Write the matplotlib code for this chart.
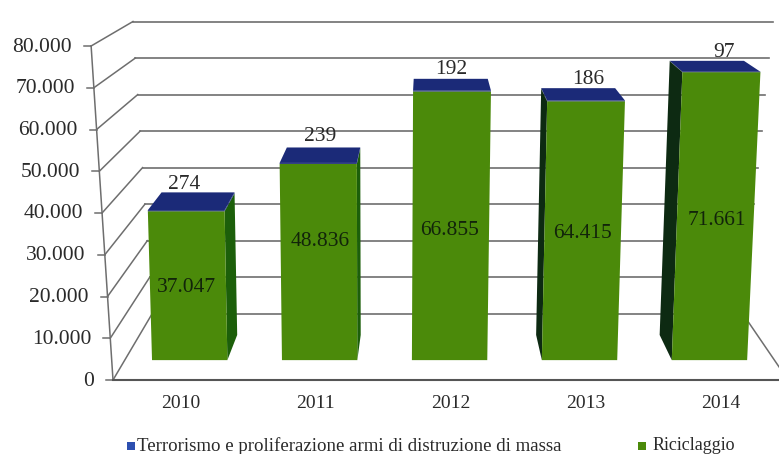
import matplotlib
matplotlib.use("Agg")
import matplotlib.pyplot as plt

plt.rcParams["font.family"] = ["Liberation Serif", "DejaVu Serif"]

years = ["2010", "2011", "2012", "2013", "2014"]
riciclaggio = [37047, 48836, 66855, 64415, 71661]
terrorismo = [274, 239, 192, 186, 97]
riciclaggio_labels = ["37.047", "48.836", "66.855", "64.415", "71.661"]
value_ticks = [0, 10000, 20000, 30000, 40000, 50000, 60000, 70000, 80000]
tick_labels = ["0", "10.000", "20.000", "30.000", "40.000", "50.000", "60.000", "70.000", "80.000"]

# hand nudges for the labels, in pixels
top_nudge = [(-14, -8), (-3, -11), (0, -9), (10, -9), (17, -8)]
mid_nudge = [(-2, 2), (1, -21), (-1, 5), (0, 3), (1, 4)]

GREEN = "#4b8a0a"
GREEN_SIDE = "#1c5f0a"
DARK_SIDE = "#0d2a12"
BLUE = "#1b2a78"
GRID = "#6e6e6e"
TEXT = "#2a2a2a"

# chart frame in pixels and the vanishing points of the 3d box
LEFT, RIGHT, FLOOR, TOP = 113.0, 788.0, 380.0, 46.0
VMAX = 80000.0
VP_X, VP_Y = 426.0, -150.0
CENTRE_X = 375.0
WALL_LEAN = 0.00025
BAR_LEAN = 0.00012
BACK_SHRINK = 0.125
BAR_WIDTH = 0.58
D_FRONT, D_BACK = 0.30, 0.68


def project(cat, value, depth, lean=WALL_LEAN):
    # cat is in category units (0..5), depth 0 = front plane, 1 = back wall
    u = LEFT + (RIGHT - LEFT) * cat / len(years)
    y = FLOOR - (FLOOR - TOP) * value / VMAX
    x = CENTRE_X + (u - CENTRE_X) * (1 + lean * (FLOOR - y))
    s = 1 - BACK_SHRINK * depth
    return VP_X + (x - VP_X) * s, VP_Y + (y - VP_Y) * s


def bar_pt(cat, value, depth):
    return project(cat, value, depth, BAR_LEAN)


def box(ax, i, v0, v1, face, side):
    c0 = i + 0.5 - BAR_WIDTH / 2
    c1 = i + 0.5 + BAR_WIDTH / 2
    if bar_pt(c1, v0, D_FRONT)[0] < VP_X:
        pts = [bar_pt(c1, v0, D_FRONT), bar_pt(c1, v1, D_FRONT),
               bar_pt(c1, v1, D_BACK), bar_pt(c1, v0, D_BACK)]
        ax.fill(*zip(*pts), color=side, lw=0, zorder=3)
    elif bar_pt(c0, v0, D_FRONT)[0] > VP_X:
        pts = [bar_pt(c0, v0, D_FRONT), bar_pt(c0, v1, D_FRONT),
               bar_pt(c0, v1, D_BACK), bar_pt(c0, v0, D_BACK)]
        ax.fill(*zip(*pts), color=DARK_SIDE, lw=0, zorder=3)
    pts = [bar_pt(c0, v0, D_FRONT), bar_pt(c1, v0, D_FRONT),
           bar_pt(c1, v1, D_FRONT), bar_pt(c0, v1, D_FRONT)]
    ax.fill(*zip(*pts), color=face, lw=0, zorder=4)


fig = plt.figure(figsize=(7.79, 4.54), dpi=100)
ax = fig.add_axes([0, 0, 1, 1])
ax.set_xlim(0, 779)
ax.set_ylim(454, 0)
ax.axis("off")

n = len(years)
for v, lab in zip(value_ticks, tick_labels):
    front = project(0, v, 0)
    back_l = project(0, v, 1)
    back_r = project(n, v, 1)
    ax.plot([front[0], back_l[0]], [front[1], back_l[1]], color=GRID, lw=1.1, zorder=1)
    ax.plot([back_l[0], back_r[0]], [back_l[1], back_r[1]], color=GRID, lw=1.2, zorder=1)
    ax.plot([front[0] - 7, front[0]], [front[1], front[1]], color=GRID, lw=1.1, zorder=2)
    ax.text(front[0] - 19, front[1] + 1, lab, ha="right", va="center", fontsize=15.5, color=TEXT)

# axis lines and floor
p0, p1 = project(0, 0, 0), project(0, VMAX, 0)
ax.plot([p0[0], p1[0]], [p0[1], p1[1]], color=GRID, lw=1.1, zorder=2)
ax.plot([p0[0], 779], [FLOOR, FLOOR], color="#555555", lw=1.5, zorder=2)
p0, p1 = project(n, 0, 0), project(n, 0, 1)
ax.plot([p0[0], p1[0]], [p0[1], p1[1]], color=GRID, lw=1.1, zorder=2)

for i, year in enumerate(years):
    total = riciclaggio[i] + terrorismo[i]
    box(ax, i, 0, riciclaggio[i], GREEN, GREEN_SIDE)
    box(ax, i, riciclaggio[i], total, BLUE, BLUE)

    # lid of the bar
    c0, c1 = i + 0.5 - BAR_WIDTH / 2, i + 0.5 + BAR_WIDTH / 2
    lid = [bar_pt(c0, total, D_FRONT), bar_pt(c1, total, D_FRONT),
           bar_pt(c1, total, D_BACK), bar_pt(c0, total, D_BACK)]
    ax.fill(*zip(*lid), color=BLUE, lw=0, zorder=5)

    x, y = bar_pt(i + 0.5, total, D_BACK)
    ax.text(x + top_nudge[i][0], y + top_nudge[i][1], str(terrorismo[i]), ha="center",
            va="center", fontsize=15.5, color=TEXT, zorder=6)
    x, y = bar_pt(i + 0.5, riciclaggio[i] / 2, D_FRONT)
    ax.text(x + mid_nudge[i][0], y + mid_nudge[i][1], riciclaggio_labels[i], ha="center",
            va="center", fontsize=15.5, color="#12240a", zorder=6)

    x, _ = project(i + 0.5, 0, 0)
    ax.text(x, 403, year, ha="center", va="center", fontsize=14, color=TEXT)

# legend
ax.scatter([131], [446], marker="s", s=38, color="#2d4fb0", lw=0)
ax.text(137, 446, "Terrorismo e proliferazione armi di distruzione di massa",
        ha="left", va="center", fontsize=13.6, color=TEXT)
ax.scatter([642], [446], marker="s", s=38, color=GREEN, lw=0)
ax.text(653, 446, "Riciclaggio", ha="left", va="center", fontsize=13, color=TEXT)

fig.savefig("out.png", dpi=100)
